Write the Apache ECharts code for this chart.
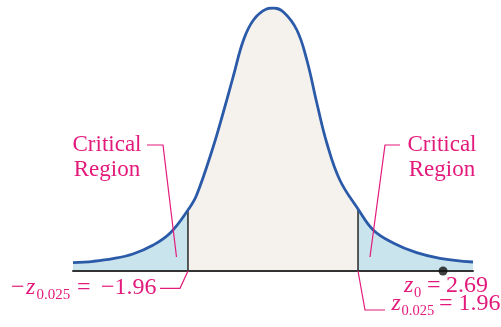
<!DOCTYPE html>
<html>
<head>
<meta charset="utf-8">
<script src="https://cdn.jsdelivr.net/npm/echarts@6/dist/echarts.min.js"></script>
<style>
  * { margin: 0; padding: 0; }
  html, body { width: 501px; height: 327px; background: #fff; overflow: hidden; }
  #main { width: 501px; height: 327px; }
</style>
</head>
<body>
<div id="main"></div>
<script>
// curve: z position and height above the base line
var curveZ = [-4.61, -4.14, -3.69, -3.23, -2.77, -2.37, -1.96, -1.76, -1.38, -1.15, -0.92, -0.68, -0.45, -0.15, 0,
              0.24, 0.55, 0.78, 1.01, 1.24, 1.54, 1.96, 2.31, 2.77, 3.31, 3.85, 4.61];
var curveH = [8.3, 9.7, 12.3, 17, 25.7, 38, 61, 76, 124, 158, 194, 231, 251, 262, 263,
              259, 241, 211, 168, 128, 91, 62, 41, 28, 18.3, 12.7, 9];
var criticalZ = [-1.96, 1.96];
var criticalH = [61, 62];
var testZ = [3.92]; // z0 = 2.69, drawn where the figure puts the dot

var pink = '#e3197b';
var serif = '"Liberation Serif", "DejaVu Serif", serif';

var curve = curveZ.map(function (z, i) { return [z, curveH[i]]; });

// text helper, y is the baseline
function txt(x, y, s, size, italic, align) {
  return {
    type: 'text', x: x, y: y - 0.84 * size, z: 100,
    style: {
      text: s, fill: pink, align: align || 'left', verticalAlign: 'top',
      font: (italic ? 'italic ' : '') + size + 'px ' + serif
    }
  };
}
function leader(points) {
  return { type: 'polyline', z: 100, shape: { points: points }, style: { stroke: pink, lineWidth: 1.2, fill: null } };
}

var chart = echarts.init(document.getElementById('main'));
var series = [
  {
    type: 'line', data: curve, smooth: 0.4, symbol: 'none', silent: true, z: 1,
    lineStyle: { width: 0 },
    areaStyle: { opacity: 1 }
  },
  {
    type: 'line', data: curve, smooth: 0.4, symbol: 'none', silent: true, z: 5,
    lineStyle: { color: '#2b5ba8', width: 2.8 }
  }
];
criticalZ.forEach(function (z, i) {
  series.push({
    type: 'line', data: [[z, 0], [z, criticalH[i]]], symbol: 'none', silent: true, z: 3,
    lineStyle: { color: '#333', width: 1.6 }
  });
});
series.push({
  type: 'scatter', data: testZ.map(function (z) { return [z, 0]; }), symbolSize: 9, z: 20,
  itemStyle: { color: '#111' }
});

chart.setOption({
  animation: false,
  grid: { left: 73, right: 28, top: 8, bottom: 56 },
  xAxis: {
    type: 'value', min: -4.61, max: 4.61, z: 10,
    axisLine: { show: true, onZero: false, lineStyle: { color: '#333', width: 2 } },
    axisTick: { show: false }, axisLabel: { show: false }, splitLine: { show: false }
  },
  yAxis: { type: 'value', min: 0, max: 263, show: false },
  visualMap: {
    show: false, type: 'piecewise', dimension: 0, seriesIndex: 0,
    pieces: [
      { lt: -1.96, color: '#c9e4ed' },
      { gte: -1.96, lte: 1.96, color: '#f5f2ed' },
      { gt: 1.96, color: '#c9e4ed' }
    ]
  },
  series: series,
  graphic: [
    txt(107, 153, 'Critical', 23, false, 'center'),
    txt(107, 178, 'Region', 23, false, 'center'),
    txt(442, 153, 'Critical', 23, false, 'center'),
    txt(442, 178, 'Region', 23, false, 'center'),
    leader([[147, 145], [163, 145], [176.5, 257]]),
    leader([[400, 145], [385, 145], [370, 257]]),

    txt(11, 295.7, '\u2212', 24),
    txt(26, 295.7, 'z', 24, true),
    txt(36.5, 300, '0.025', 15),
    txt(77, 295.7, '=', 24),
    txt(101, 295.7, '\u22121.96', 24),
    leader([[160, 288.3], [180, 288.3], [188, 271]]),

    txt(404, 294, 'z', 24, true),
    txt(414, 298, '0', 14.5),
    txt(427, 294, '=', 24),
    txt(446, 294, '2.69', 24),
    txt(391.5, 311.5, 'z', 24, true),
    txt(401.5, 315.5, '0.025', 14.5),
    txt(439, 311.5, '=', 24),
    txt(458.5, 311.5, '1.96', 24),
    leader([[358, 271], [365, 310], [385, 310]])
  ]
});
</script>
</body>
</html>
